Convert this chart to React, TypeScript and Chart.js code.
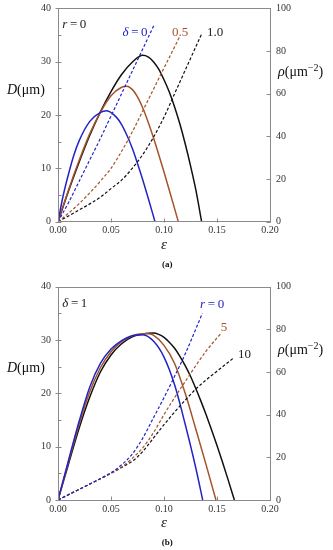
import React, { useEffect, useRef } from 'react';
import { Chart, registerables } from 'chart.js';
Chart.register(...registerables);

const SERIF = '"Liberation Serif", "Times New Roman", Times, serif';
const BLUE = '#2323c8';
const BROWN = '#a4532a';
const BLACK = '#111111';

// ---------- Panel (a): r = 0, delta = 0, 0.5, 1.0 ----------
const aXD0 = [0, 0.005, 0.01, 0.015, 0.02, 0.03, 0.04, 0.046, 0.055, 0.06, 0.065, 0.07, 0.075, 0.08, 0.085, 0.0915];
const aYD0 = [0, 5, 9, 12.5, 15.2, 18.8, 20.5, 20.8, 19.6, 18.2, 16.2, 13.8, 10.9, 7.8, 4.5, 0];
const aXD05 = [0, 0.01, 0.02, 0.03, 0.04, 0.05, 0.06, 0.065, 0.07, 0.075, 0.08, 0.085, 0.09, 0.095, 0.1, 0.105, 0.11, 0.1135];
const aYD05 = [0, 6, 11.5, 16.5, 20.5, 23.6, 25.2, 25.4, 24.8, 23.4, 21.3, 18.7, 15.8, 12.6, 9.3, 5.9, 2.45, 0];
const aXD1 = [0, 0.01, 0.02, 0.03, 0.04, 0.05, 0.06, 0.07, 0.08, 0.085, 0.09, 0.095, 0.1, 0.105, 0.11, 0.115, 0.12, 0.125, 0.13, 0.1355];
const aYD1 = [0, 5.8, 11.2, 16.2, 20.6, 24.4, 27.6, 29.9, 31.2, 30.9, 30.0, 28.6, 26.6, 24.3, 21.5, 18.3, 14.6, 10.5, 6.0, 0];
const aXR0 = [0, 0.01, 0.02, 0.03, 0.04, 0.05, 0.06, 0.07, 0.08, 0.0905];
const aYR0 = [0, 9, 19, 29, 39, 49.5, 60, 70.5, 81, 92];
const aXR05 = [0, 0.01, 0.02, 0.03, 0.04, 0.05, 0.06, 0.07, 0.08, 0.09, 0.1, 0.1151];
const aYR05 = [0, 4, 8.5, 13.5, 19, 25, 33, 42, 52, 62, 72, 87];
const aXR1 = [0, 0.02, 0.04, 0.05, 0.06, 0.07, 0.08, 0.09, 0.1, 0.11, 0.12, 0.1355];
const aYR1 = [0, 5.5, 11.5, 15.5, 19.5, 25, 31.5, 39.5, 49, 60, 71, 88];

// ---------- Panel (b): delta = 1, r = 0, 5, 10 ----------
const bXD0 = [0, 0.01, 0.02, 0.03, 0.04, 0.05, 0.06, 0.07, 0.08, 0.09, 0.1, 0.11, 0.12, 0.13, 0.1365];
const bYD0 = [0, 7.5, 14.8, 21.2, 25.6, 28.3, 29.9, 30.8, 31.0, 29.8, 26.8, 21.6, 14.2, 6, 0];
const bXD5 = [0, 0.01, 0.02, 0.03, 0.04, 0.05, 0.06, 0.07, 0.08, 0.085, 0.09, 0.1, 0.11, 0.12, 0.13, 0.14, 0.149];
const bYD5 = [0, 7.2, 14.2, 20.3, 24.8, 27.8, 29.7, 30.8, 31.2, 31.2, 30.9, 29.0, 25.6, 20.0, 13.3, 6.4, 0];
const bXD10 = [0, 0.01, 0.02, 0.03, 0.04, 0.05, 0.06, 0.07, 0.08, 0.085, 0.09, 0.095, 0.1, 0.105, 0.11, 0.115, 0.12, 0.125, 0.13, 0.135, 0.14, 0.145, 0.15, 0.155, 0.16, 0.1664];
const bYD10 = [0, 6.8, 13.5, 19.3, 24, 27.2, 29.3, 30.6, 31.1, 31.25, 31.3, 31.05, 30.5, 29.6, 28.45, 26.95, 25.2, 23.2, 20.9, 18.45, 15.85, 13.1, 10.2, 7.2, 4.1, 0];
const bXR0 = [0, 0.02, 0.04, 0.05, 0.06, 0.07, 0.08, 0.09, 0.1, 0.11, 0.12, 0.1362];
const bYR0 = [0, 5, 10, 12.8, 16.5, 21.5, 29, 38.5, 48, 58, 68.5, 87.5];
const bXR5 = [0, 0.02, 0.04, 0.05, 0.06, 0.07, 0.08, 0.09, 0.1, 0.11, 0.12, 0.13, 0.14, 0.1544];
const bYR5 = [0, 5, 10, 12.6, 15.5, 19.5, 24.5, 31.5, 40, 48, 55.5, 63, 70, 78.5];
const bXR10 = [0, 0.02, 0.04, 0.05, 0.06, 0.07, 0.075, 0.08, 0.085, 0.09, 0.095, 0.1, 0.11, 0.12, 0.13, 0.14, 0.15, 0.1654];
const bYR10 = [0, 5, 10, 12.5, 15.2, 18.2, 20.2, 22.8, 25.8, 29.0, 32.2, 35.3, 41.2, 46.8, 52.0, 56.4, 60.4, 66.5];

// axis ranges / ticks
const X_MIN = 0, X_MAX = 0.2, X_STEP = 0.05;
const D_MIN = 0, D_MAX = 40, D_STEP = 10;
const R_MIN = 0, R_MAX = 100, R_STEP = 20;

const pts = (xs: number[], ys: number[]) => xs.map((x, i) => ({ x, y: ys[i] }));

type Ser = { xs: number[]; ys: number[]; color: string; dashed: boolean };

const panelA = {
  series: [
    { xs: aXR0, ys: aYR0, color: BLUE, dashed: true },
    { xs: aXR05, ys: aYR05, color: BROWN, dashed: true },
    { xs: aXR1, ys: aYR1, color: BLACK, dashed: true },
    { xs: aXD0, ys: aYD0, color: BLUE, dashed: false },
    { xs: aXD05, ys: aYD05, color: BROWN, dashed: false },
    { xs: aXD1, ys: aYD1, color: BLACK, dashed: false },
  ] as Ser[],
  top: 8.3,
  xAxisH: 53.3,
  notes: [
    { x: 0.004, y: 37, align: 'left', color: '#222', parts: [{ t: 'r', it: true }, { t: '\u2009=\u20090' }] },
    { x: 0.0845, y: 35.4, align: 'right', color: BLUE, parts: [{ t: 'δ', it: true }, { t: '\u2009=\u20090' }] },
    { x: 0.1228, y: 35.4, align: 'right', color: BROWN, parts: [{ t: '0.5' }] },
    { x: 0.1405, y: 35.4, align: 'left', color: '#222', parts: [{ t: '1.0' }] },
  ],
  caption: '(a)',
};

const panelB = {
  series: [
    { xs: bXR0, ys: bYR0, color: BLUE, dashed: true },
    { xs: bXR5, ys: bYR5, color: BROWN, dashed: true },
    { xs: bXR10, ys: bYR10, color: BLACK, dashed: true },
    { xs: bXD0, ys: bYD0, color: BLUE, dashed: false },
    { xs: bXD5, ys: bYD5, color: BROWN, dashed: false },
    { xs: bXD10, ys: bYD10, color: BLACK, dashed: false },
  ] as Ser[],
  top: 11.7,
  xAxisH: 50,
  notes: [
    { x: 0.004, y: 36.9, align: 'left', color: '#222', parts: [{ t: 'δ', it: true }, { t: '\u2009=\u20091' }] },
    { x: 0.134, y: 36.6, align: 'left', color: BLUE, parts: [{ t: 'r', it: true }, { t: '\u2009=\u20090' }] },
    { x: 0.1565, y: 32.3, align: 'center', color: BROWN, parts: [{ t: '5' }] },
    { x: 0.1698, y: 27.2, align: 'left', color: '#222', parts: [{ t: '10' }] },
  ],
  caption: '(b)',
};

function drawRich(ctx: CanvasRenderingContext2D, parts: any[], x: number, y: number, align: string, color: string) {
  const ws = parts.map((p) => {
    ctx.font = p.font;
    return ctx.measureText(p.t).width;
  });
  const total = ws.reduce((a, b) => a + b, 0);
  let cx = align === 'center' ? x - total / 2 : align === 'right' ? x - total : x;
  ctx.textAlign = 'left';
  ctx.textBaseline = 'middle';
  ctx.fillStyle = color;
  parts.forEach((p, i) => {
    ctx.font = p.font;
    ctx.fillText(p.t, cx, y + (p.dy || 0));
    cx += ws[i];
  });
}

const decor = {
  id: 'decor',
  afterDraw(chart: any, _args: any, opts: any) {
    const { ctx, chartArea: ca, scales } = chart;
    const sx = scales.x, sy = scales.y, sr = scales.y1;
    ctx.save();
    // frame
    ctx.strokeStyle = '#8a8a8a';
    ctx.lineWidth = 1;
    ctx.strokeRect(Math.round(ca.left) + 0.5, Math.round(ca.top) + 0.5, Math.round(ca.right - ca.left), Math.round(ca.bottom - ca.top));
    ctx.beginPath();
    const b = Math.round(ca.bottom) + 0.5;
    sx.ticks.forEach((t: any) => {
      const p = Math.round(sx.getPixelForValue(t.value)) + 0.5;
      ctx.moveTo(p, b); ctx.lineTo(p, b - 4);
    });
    const l = Math.round(ca.left) + 0.5;
    const yt = sy.ticks.map((t: any) => t.value);
    yt.forEach((v: number, i: number) => {
      const p = Math.round(sy.getPixelForValue(v)) + 0.5;
      ctx.moveTo(l - 3, p); ctx.lineTo(l + 3, p);
      if (i < yt.length - 1) {
        const m = Math.round(sy.getPixelForValue((v + yt[i + 1]) / 2)) + 0.5;
        ctx.moveTo(l, m); ctx.lineTo(l + 3, m);
      }
    });
    const r = Math.round(ca.right) + 0.5;
    sr.ticks.forEach((t: any) => {
      const p = Math.round(sr.getPixelForValue(t.value)) + 0.5;
      ctx.moveTo(r, p); ctx.lineTo(r - 4, p);
    });
    ctx.stroke();

    // annotations
    opts.notes.forEach((n: any) => {
      const parts = n.parts.map((p: any) => ({ t: p.t, font: `${p.it ? 'italic ' : ''}13px ${SERIF}` }));
      drawRich(ctx, parts, sx.getPixelForValue(n.x), sy.getPixelForValue(n.y), n.align, n.color);
    });

    // axis labels
    drawRich(ctx, [
      { t: 'D', font: `italic 14px ${SERIF}` },
      { t: '(μm)', font: `14px ${SERIF}` },
    ], 7, sy.getPixelForValue(24.7), 'left', '#111');
    drawRich(ctx, [
      { t: 'ρ', font: `italic 14px ${SERIF}` },
      { t: '(μm', font: `14px ${SERIF}` },
      { t: '\u22122', font: `10px ${SERIF}`, dy: -4 },
      { t: ')', font: `14px ${SERIF}` },
    ], ca.right + 8, sr.getPixelForValue(70), 'left', '#111');
    drawRich(ctx, [{ t: 'ε', font: `italic 15px ${SERIF}` }], sx.getPixelForValue(0.1), ca.bottom + 23.5, 'center', '#111');
    drawRich(ctx, [{ t: opts.caption, font: `bold 9px ${SERIF}` }], sx.getPixelForValue(0.103), ca.bottom + 42.5, 'center', '#111');
    ctx.restore();
  },
};

function Panel({ cfg }: { cfg: any }) {
  const ref = useRef<HTMLCanvasElement | null>(null);
  useEffect(() => {
    if (!ref.current) return;
    const tickFont = { family: SERIF, size: 10 };
    const chart = new Chart(ref.current, {
      type: 'line',
      data: {
        datasets: cfg.series.map((s: Ser, i: number) => ({
          label: 's' + i,
          data: pts(s.xs, s.ys),
          yAxisID: s.dashed ? 'y1' : 'y',
          borderColor: s.color,
          borderWidth: s.dashed ? 1.2 : 1.5,
          borderDash: s.dashed ? [3, 2] : [],
          pointRadius: 0,
          cubicInterpolationMode: 'monotone',
          fill: false,
        })),
      },
      options: {
        responsive: false,
        animation: false,
        events: [],
        layout: { padding: { top: cfg.top, left: 0, right: 0, bottom: 0 } },
        plugins: {
          legend: { display: false },
          tooltip: { enabled: false },
          decor: { notes: cfg.notes, caption: cfg.caption },
        } as any,
        scales: {
          x: {
            type: 'linear',
            min: X_MIN,
            max: X_MAX,
            grid: { display: false, drawTicks: false },
            border: { display: false },
            ticks: { stepSize: X_STEP, padding: 3, font: tickFont, color: '#333', maxRotation: 0, callback: (v: any) => Number(v).toFixed(2) },
            afterFit: (s: any) => { s.height = cfg.xAxisH; s.paddingLeft = 0; s.paddingRight = 0; },
          },
          y: {
            type: 'linear',
            position: 'left',
            min: D_MIN,
            max: D_MAX,
            grid: { display: false, drawTicks: false },
            border: { display: false },
            ticks: { stepSize: D_STEP, padding: 7, font: tickFont, color: '#333' },
            afterFit: (s: any) => { s.width = 58; s.paddingTop = 0; s.paddingBottom = 0; },
          },
          y1: {
            type: 'linear',
            position: 'right',
            min: R_MIN,
            max: R_MAX,
            grid: { display: false, drawTicks: false },
            border: { display: false },
            ticks: { stepSize: R_STEP, padding: 6, font: tickFont, color: '#333' },
            afterFit: (s: any) => { s.width = 63; s.paddingTop = 0; s.paddingBottom = 0; },
          },
        },
      } as any,
      plugins: [decor],
    });
    return () => chart.destroy();
  }, [cfg]);
  return <canvas ref={ref} width={333} height={275} style={{ display: 'block', width: 333, height: 275 }} />;
}

export default function App() {
  return (
    <div style={{ position: 'absolute', left: 0, top: 0, width: 333, height: 550, background: '#fff' }}>
      <Panel cfg={panelA} />
      <Panel cfg={panelB} />
    </div>
  );
}
